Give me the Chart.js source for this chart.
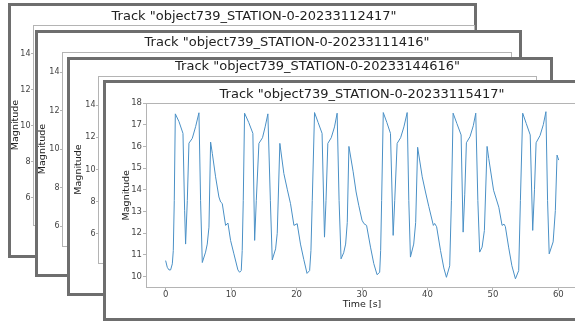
<!DOCTYPE html>
<html>
<head>
<meta charset="utf-8">
<script src="https://cdn.jsdelivr.net/npm/chart.js@4.4.1/dist/chart.umd.min.js"></script>
<style>
  html, body { margin: 0; padding: 0; background: #fff; }
  body { position: relative; width: 575px; height: 323px; overflow: hidden; }
  .card { position: absolute; box-sizing: border-box; background: #fff; border: 3px solid #6e6e6e; }
  .card canvas { position: absolute; left: 0; top: 0; }
</style>
</head>
<body>
<div class="card" style="left:8px;top:3px;width:469px;height:255px"><canvas id="track1" width="486" height="249"></canvas></div>
<div class="card" style="left:35px;top:30px;width:487px;height:247px"><canvas id="track2" width="498" height="241"></canvas></div>
<div class="card" style="left:67px;top:57px;width:486px;height:239px"><canvas id="track3" width="495" height="233"></canvas></div>
<div class="card" style="left:103px;top:80px;width:520px;height:241px"><canvas id="track4" width="512" height="235"></canvas></div>
<script>
const trackTitles = [
    'Track "object739_STATION-0-20233112417"',
    'Track "object739_STATION-0-20233111416"',
    'Track "object739_STATION-0-20233144616"',
    'Track "object739_STATION-0-20233115417"'
];

// front track light curve
const times = [
    0, 0.25, 0.51, 0.76, 1.02, 1.17, 1.32, 1.48, 2.04, 2.65, 2.9, 3.05, 3.31, 3.56, 4.07, 4.58, 5.09, 5.34, 5.6,
    6.1, 6.36, 6.62, 6.87, 7.13, 7.63, 8.14, 8.4, 8.65, 9.16, 9.52, 9.92, 10.43, 11.04, 11.3, 11.55, 11.7, 11.86,
    12.06, 12.7, 13.33, 13.6, 13.85, 14.25, 14.8, 15.2, 15.62, 16.0, 16.29, 16.8, 17.05, 17.45, 18.06, 18.6,
    19.08, 19.6, 20.1, 20.6, 21.1, 21.6, 22.0, 22.2, 22.4,
    22.75, 23.3, 23.9, 24.27, 24.5, 24.78, 25.3, 25.8, 26.2, 26.5, 26.8, 27.2, 27.5, 27.75, 28.0, 28.65, 29.1,
    29.5, 30.0, 30.3, 30.7, 31.3, 31.8, 32.3, 32.7, 32.85, 33.0,
    33.25, 33.8, 34.35, 34.76, 35.0, 35.37, 35.9, 36.4, 36.9, 37.15, 37.4, 37.9, 38.2, 38.5, 39.2, 39.7, 40.2,
    40.9, 41.1, 41.4, 42.0, 42.5, 42.9, 43.4, 43.66,
    43.92, 44.5, 45.14, 45.45, 45.7, 45.95, 46.5, 47.0, 47.38, 47.7, 47.98, 48.35, 48.7, 49.11, 49.36, 50.1,
    50.9, 51.4, 51.7, 51.9, 52.4, 52.9, 53.44, 53.94, 54.2,
    54.55, 55.1, 55.7, 56.08, 56.35, 56.6, 57.2, 57.7, 58.1, 58.35, 58.6, 59.2, 59.54, 59.8, 60.05
];
const magnitudes = [
    10.74, 10.43, 10.31, 10.31, 10.59, 11.2, 13.5, 17.5, 17.14, 16.6, 13.06, 11.5, 13.5, 16.15, 16.37, 16.91, 17.55, 13.5, 10.65,
    11.13, 11.5, 12.28, 16.2, 15.68, 14.6, 13.67, 13.44, 13.37, 12.36, 12.47, 11.67, 11.05, 10.31, 10.2, 10.28, 11.2, 13.5,
    17.53, 17.1, 16.6, 11.67, 13.5, 16.14, 16.4, 16.9, 17.5, 13.5, 10.77, 11.28, 12.0, 16.14, 14.75, 14.0,
    13.36, 12.36, 12.44, 11.5, 10.8, 10.15, 10.28, 11.2, 13.5,
    17.56, 17.1, 16.6, 11.82, 13.5, 16.14, 16.4, 16.9, 17.53, 13.5, 10.82, 11.1, 11.5, 12.5, 16.0, 14.83, 13.9,
    13.29, 12.6, 12.44, 12.36, 11.36, 10.6, 10.09, 10.2, 11.2, 13.5,
    17.56, 17.1, 16.6, 11.9, 13.5, 16.14, 16.4, 16.9, 17.56, 13.5, 10.9, 11.5, 12.5, 15.96, 14.6, 13.9, 13.24,
    12.36, 12.45, 12.3, 11.2, 10.4, 9.97, 10.5, 13.5,
    17.53, 17.05, 16.53, 12.05, 13.8, 16.17, 16.45, 16.95, 17.53, 13.5, 11.13, 11.36, 12.13, 16.0, 15.45, 13.98,
    13.2, 12.36, 12.42, 12.31, 11.36, 10.5, 9.9, 10.28, 13.5,
    17.53, 17.05, 16.53, 12.13, 14.0, 16.17, 16.5, 17.0, 17.6, 13.5, 11.05, 11.6, 13.05, 15.6, 15.37
];

// magnitude range of the tracks hidden behind
const backMagMin = [4.5, 4.98, 4.2];
const backMagMax = [15.6, 15.05, 15.8];

const spineColor = '#b4b4b4';
const textColor = '#444';
const font = 'DejaVu Sans';

const spines = {
    id: 'spines',
    afterDraw(chart) {
        const { ctx, chartArea: a } = chart;
        ctx.save();
        ctx.strokeStyle = spineColor;
        ctx.lineWidth = 1;
        ctx.beginPath();
        ctx.moveTo(a.left, a.top + 0.5);
        ctx.lineTo(a.right, a.top + 0.5);
        ctx.moveTo(a.right - 0.5, a.top);
        ctx.lineTo(a.right - 0.5, a.bottom);
        ctx.stroke();
        ctx.restore();
    }
};

function makeTrack(id, title, opt) {
    const hasData = !!opt.data;
    return new Chart(document.getElementById(id), {
        type: 'line',
        data: {
            datasets: [{
                data: hasData ? opt.data : [],
                borderColor: '#4a90c6',
                borderWidth: 1,
                pointRadius: 0,
                tension: 0,
                fill: false
            }]
        },
        options: {
            responsive: false,
            animation: false,
            devicePixelRatio: 1,
            layout: { padding: 0 },
            plugins: {
                legend: { display: false },
                tooltip: { enabled: false },
                title: {
                    display: true,
                    text: title,
                    color: '#222',
                    font: { family: font, size: 13, weight: 'normal', lineHeight: 1 },
                    padding: opt.titlePad
                }
            },
            scales: {
                x: {
                    type: 'linear',
                    min: opt.xMin,
                    max: opt.xMax,
                    afterFit: s => { s.height = opt.xHeight; },
                    border: { display: true, color: spineColor, width: 1 },
                    grid: { display: hasData, drawOnChartArea: false, drawTicks: true, tickLength: 3, color: spineColor },
                    ticks: {
                        display: hasData, stepSize: 10, includeBounds: false, padding: 0,
                        color: textColor, font: { family: font, size: 8.5, lineHeight: 0.9 }, maxRotation: 0
                    },
                    title: {
                        display: hasData, text: 'Time [s]', color: '#222',
                        font: { family: font, size: 9.5, lineHeight: 1 },
                        padding: { top: 0, bottom: opt.xTitlePad || 0 }
                    }
                },
                y: {
                    type: 'linear',
                    min: opt.yMin,
                    max: opt.yMax,
                    afterFit: s => { s.width = opt.yWidth; },
                    border: { display: true, color: spineColor, width: 1 },
                    grid: { drawOnChartArea: false, drawTicks: true, tickLength: opt.tickLen, color: spineColor },
                    ticks: {
                        stepSize: opt.yStep, includeBounds: false, padding: opt.tickPad,
                        color: textColor, font: { family: font, size: opt.tickSize }
                    },
                    title: {
                        display: true, text: 'Magnitude', color: '#222',
                        font: { family: font, size: 9.5, lineHeight: 1 },
                        padding: { top: opt.yTitlePad, bottom: 0 }
                    }
                },
                // empty right margin so the title sits centred over the plot
                yRight: {
                    type: 'linear',
                    position: 'right',
                    afterFit: s => { s.width = opt.yWidth; },
                    border: { display: false },
                    grid: { display: false },
                    ticks: { display: false }
                }
            }
        },
        plugins: [spines]
    });
}

makeTrack('track1', trackTitles[0], {
    titlePad: { top: 4.5, bottom: 1.5 }, xMin: -3, xMax: 63, xHeight: 30,
    yMin: backMagMin[0], yMax: backMagMax[0], yStep: 2, yWidth: 22, yTitlePad: 0,
    tickLen: 2, tickPad: 0.5, tickSize: 8
});
makeTrack('track2', trackTitles[1], {
    titlePad: { top: 3.5, bottom: 2.5 }, xMin: -3, xMax: 63, xHeight: 28,
    yMin: backMagMin[1], yMax: backMagMax[1], yStep: 2, yWidth: 24, yTitlePad: 0,
    tickLen: 2, tickPad: 0.5, tickSize: 8
});
makeTrack('track3', trackTitles[2], {
    titlePad: { top: 0.5, bottom: 2.5 }, xMin: -3, xMax: 63, xHeight: 30,
    yMin: backMagMin[2], yMax: backMagMax[2], yStep: 2, yWidth: 28, yTitlePad: 3.5,
    tickLen: 2, tickPad: 0.5, tickSize: 8
});
makeTrack('track4', trackTitles[3], {
    data: times.map((t, i) => ({ x: t, y: magnitudes[i] })),
    titlePad: { top: 5.5, bottom: 1.5 }, xMin: -3, xMax: 63, xHeight: 30.5, xTitlePad: 9,
    yMin: 9.5, yMax: 18, yStep: 1, yWidth: 40, yTitlePad: 15.5,
    tickLen: 3, tickPad: 1, tickSize: 8.5
});
</script>
</body>
</html>
